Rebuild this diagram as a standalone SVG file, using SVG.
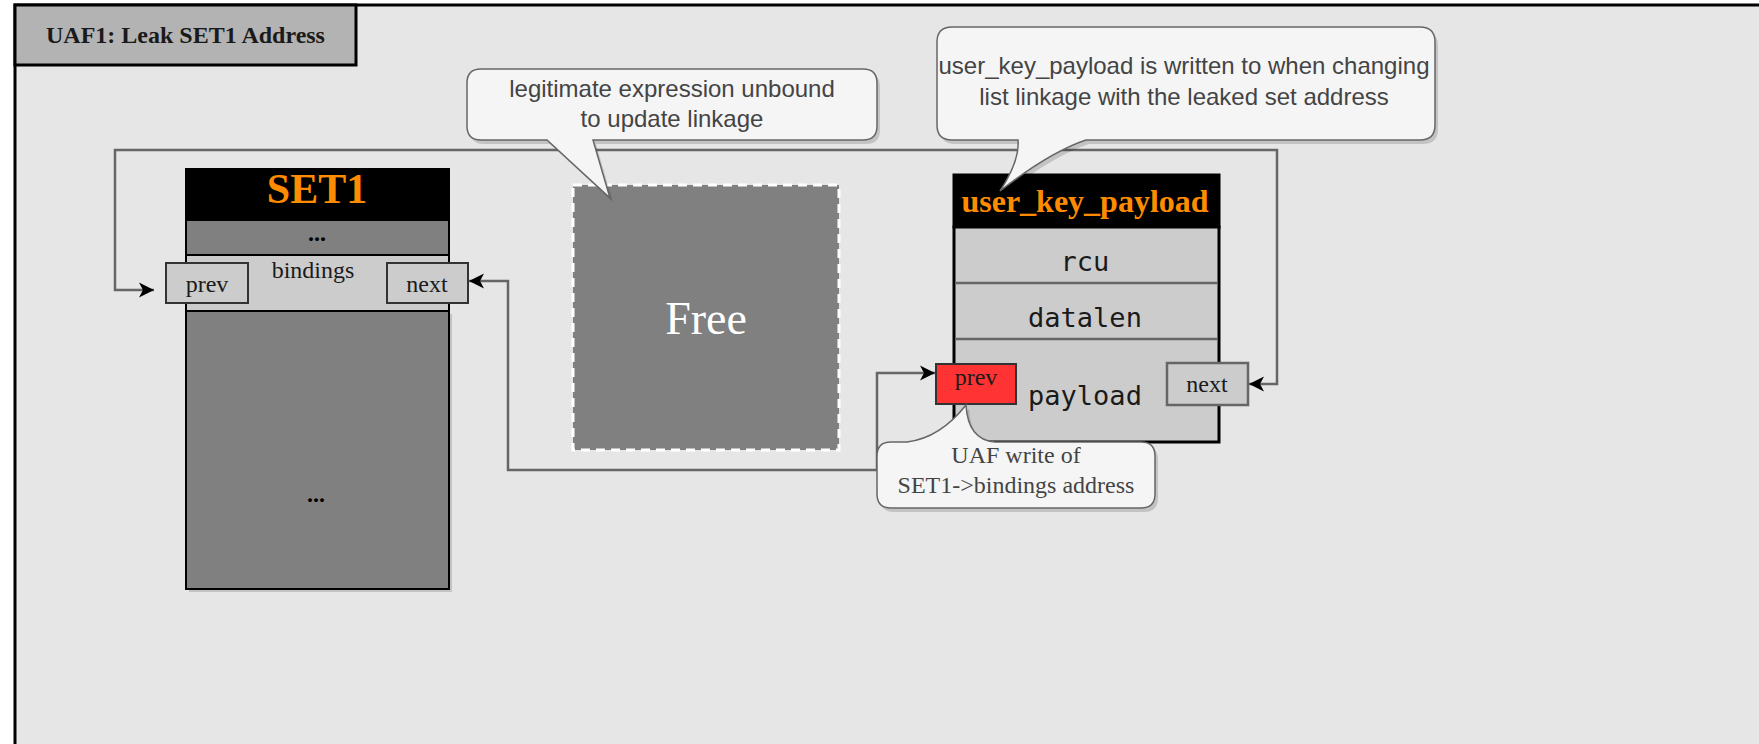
<svg xmlns="http://www.w3.org/2000/svg" width="1759" height="744" viewBox="0 0 1759 744">
<defs>
<style>
.conn{fill:none;stroke:#666;stroke-width:2.5}
.callout{fill:#f5f5f5;stroke:#666;stroke-width:1.5}
.shadow{fill:#000;opacity:0.15}
.serif{font-family:"Liberation Serif",serif}
.sans{font-family:"Liberation Sans",sans-serif}
.mono{font-family:"DejaVu Sans Mono",monospace}
.lbl{font-size:24px;fill:#1a1a1a;text-anchor:middle}
.ctext{font-size:24px;fill:#444;text-anchor:middle}
.field{fill:#cccccc;stroke:#333;stroke-width:2}
</style>
<marker id="arr" viewBox="-16 -9 17 18" refX="0" refY="0" markerWidth="17" markerHeight="18" markerUnits="userSpaceOnUse" orient="auto-start-reverse">
<path d="M0,0 L-15,-7.5 L-11,0 L-15,7.5 Z" fill="#000"/>
</marker>
</defs>
<rect x="0" y="0" width="1759" height="744" fill="#ffffff"/>
<g id="frame">
<rect x="15" y="5" width="1800" height="800" fill="#e6e6e6" stroke="#000" stroke-width="3"/>
<rect x="15" y="5" width="341" height="60" fill="#b3b3b3" stroke="#000" stroke-width="3"/>
<text x="185.5" y="43" class="serif" font-size="24" font-weight="bold" fill="#1a1a1a" text-anchor="middle">UAF1: Leak SET1 Address</text>
</g>
<g id="connectors">
<path class="conn" d="M154,290 L115,290 L115,150 L1277,150 L1277,384 L1249,384" marker-start="url(#arr)" marker-end="url(#arr)"/>
<path class="conn" d="M469,281 L508,281 L508,470 L877,470 L877,373 L935,373" marker-start="url(#arr)" marker-end="url(#arr)"/>
</g>
<g id="set1">
<rect x="189" y="314" width="263" height="278" class="shadow"/>
<rect x="186" y="169" width="263" height="51" fill="#000" stroke="#000" stroke-width="2"/>
<text x="317" y="203" class="serif" font-size="42" font-weight="bold" fill="#ff8c00" text-anchor="middle">SET1</text>
<rect x="186" y="220" width="263" height="35" fill="#808080" stroke="#000" stroke-width="2"/>
<text x="317" y="241" class="serif" font-size="24" font-weight="bold" fill="#000" text-anchor="middle">...</text>
<rect x="186" y="255" width="263" height="56" fill="#cccccc" stroke="#000" stroke-width="2"/>
<text x="313" y="278" class="serif lbl">bindings</text>
<rect x="186" y="311" width="263" height="278" fill="#808080" stroke="#000" stroke-width="2"/>
<text x="316" y="502" class="serif" font-size="24" font-weight="bold" fill="#000" text-anchor="middle">...</text>
</g>
<g id="set1-prev">
<rect x="166" y="263" width="82" height="40" class="field"/>
<text x="207" y="292" class="serif lbl">prev</text>
</g>
<g id="set1-next">
<rect x="387" y="263" width="81" height="40" class="field"/>
<text x="427" y="292" class="serif lbl">next</text>
</g>
<g id="free">
<rect x="573" y="185" width="266" height="265" fill="#808080" stroke="#ffffff" stroke-width="3" stroke-dasharray="9 6"/>
<text x="706" y="334" class="serif" font-size="46" fill="#ffffff" text-anchor="middle">Free</text>
</g>
<g id="user_key_payload">
<rect x="954" y="175" width="265" height="52" fill="#000" stroke="#000" stroke-width="3"/>
<text x="1085" y="212" class="serif" font-size="32" font-weight="bold" fill="#ff8c00" text-anchor="middle">user_key_payload</text>
<rect x="954" y="227" width="265" height="215" fill="#cccccc" stroke="#000" stroke-width="3"/>
<line x1="955.5" y1="283" x2="1217.5" y2="283" stroke="#666" stroke-width="2.5"/>
<line x1="955.5" y1="339" x2="1217.5" y2="339" stroke="#666" stroke-width="2.5"/>
<text x="1085" y="271" class="mono" font-size="27" fill="#1a1a1a" text-anchor="middle">rcu</text>
<text x="1085" y="327" class="mono" font-size="27" fill="#1a1a1a" text-anchor="middle">datalen</text>
<text x="1085" y="405" class="mono" font-size="27" fill="#1a1a1a" text-anchor="middle">payload</text>
</g>
<g id="ukp-prev">
<rect x="936" y="364" width="80" height="40" fill="#ff3333" stroke="#333" stroke-width="2"/>
<text x="976" y="385" class="serif lbl">prev</text>
</g>
<g id="ukp-next">
<rect x="1167" y="363" width="81" height="42" fill="#cccccc" stroke="#666" stroke-width="2.5"/>
<text x="1207" y="392" class="serif lbl">next</text>
</g>
<g id="callout-legit">
<path class="shadow" transform="translate(3,4)" d="M481,69 H863 Q877,69 877,83 V126 Q877,140 863,140 H593 L610,198 L547,140 H481 Q467,140 467,126 V83 Q467,69 481,69 Z"/>
<path class="callout" d="M481,69 H863 Q877,69 877,83 V126 Q877,140 863,140 H593 L610,198 L547,140 H481 Q467,140 467,126 V83 Q467,69 481,69 Z"/>
<text class="sans ctext"><tspan x="672" y="97">legitimate expression unbound</tspan><tspan x="672" y="127">to update linkage</tspan></text>
</g>
<g id="callout-ukp">
<path class="shadow" transform="translate(3,4)" d="M952,27 H1420 Q1435,27 1435,42 V125 Q1435,140 1420,140 H1086 Q1050,152 1000,191 Q1020,160 1018,140 H952 Q937,140 937,125 V42 Q937,27 952,27 Z"/>
<path class="callout" d="M952,27 H1420 Q1435,27 1435,42 V125 Q1435,140 1420,140 H1086 Q1050,152 1000,191 Q1020,160 1018,140 H952 Q937,140 937,125 V42 Q937,27 952,27 Z"/>
<text class="sans ctext"><tspan x="1184" y="74">user_key_payload is written to when changing</tspan><tspan x="1184" y="105">list linkage with the leaked set address</tspan></text>
</g>
<g id="callout-uaf">
<path class="shadow" transform="translate(3,4)" d="M891,442 H907 Q940,438 966,405 Q968,440 995,442 H1141 Q1155,442 1155,456 V494 Q1155,508 1141,508 H891 Q877,508 877,494 V456 Q877,442 891,442 Z"/>
<path class="callout" d="M891,442 H907 Q940,438 966,405 Q968,440 995,442 H1141 Q1155,442 1155,456 V494 Q1155,508 1141,508 H891 Q877,508 877,494 V456 Q877,442 891,442 Z"/>
<text class="serif ctext" fill="#333"><tspan x="1016" y="463">UAF write of</tspan><tspan x="1016" y="493">SET1-&gt;bindings address</tspan></text>
</g>
</svg>
